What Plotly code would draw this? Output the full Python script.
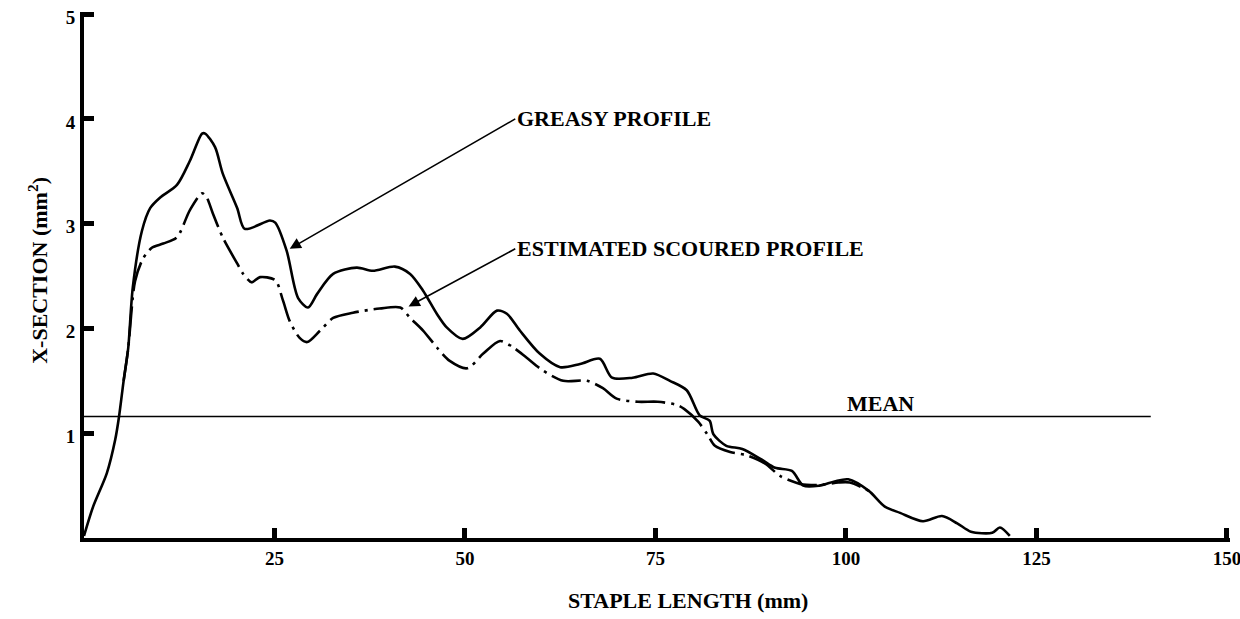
import plotly.graph_objects as go

# staple length (mm) / cross-section (mm^2)
greasy_x = [0, 1.2, 3.0, 4.1, 4.6, 5.2, 5.8, 6.4, 7.6, 8.7, 10.0, 12.2, 13.9, 15.5,
            15.9, 17.2, 18.2, 20.1, 21.1, 24.4, 25.1, 26.6, 28.1, 29.4, 30.6, 32.7,
            35.8, 37.9, 40.8, 42.8, 44.5, 46.3, 47.6, 49.7, 52.0, 54.2, 55.5, 57.2,
            59.8, 62.5, 65.1, 67.7, 69.3, 72.0, 74.7, 76.9, 79.1, 80.8, 82.1, 82.6,
            84.3, 86.4, 88.9, 90.7, 92.9, 94.4, 96.5, 98.5, 100.3, 103.0, 105.1,
            107.1, 110.1, 112.6, 114.6, 116.4, 119.2, 120.2, 121.5]
greasy_y = [0.02, 0.3, 0.62, 0.94, 1.16, 1.5, 1.81, 2.39, 2.93, 3.15, 3.25, 3.37, 3.60,
            3.86, 3.86, 3.73, 3.48, 3.15, 2.95, 3.03, 3.01, 2.74, 2.29, 2.20, 2.33,
            2.52, 2.58, 2.55, 2.59, 2.52, 2.36, 2.14, 2.01, 1.90, 2.01, 2.17, 2.14,
            1.98, 1.76, 1.63, 1.66, 1.71, 1.53, 1.53, 1.57, 1.50, 1.41, 1.17, 1.12,
            0.99, 0.88, 0.85, 0.75, 0.67, 0.64, 0.50, 0.50, 0.54, 0.56, 0.45, 0.30,
            0.24, 0.16, 0.21, 0.14, 0.06, 0.05, 0.10, 0.02]

scoured_x = [5.2, 5.8, 6.7, 7.7, 8.9, 10.4, 12.2, 13.9, 15.5, 16.1, 16.9, 18.2, 20.1,
             20.9, 22.0, 23.1, 25.1, 26.1, 27.0, 28.3, 29.3, 31.0, 32.7, 35.3, 38.8,
             41.5, 42.8, 44.5, 46.3, 48.0, 50.3, 52.4, 54.6, 56.3, 58.1, 60.2, 62.9,
             66.0, 68.1, 69.9, 72.7, 75.3, 77.8, 78.8, 80.6, 81.8, 82.8, 84.8, 86.9,
             89.4, 91.4, 94.4, 97.0, 99.0, 100.5, 103.0]
scoured_y = [1.5, 1.81, 2.45, 2.66, 2.77, 2.81, 2.87, 3.13, 3.29, 3.25, 3.10, 2.87, 2.62,
             2.52, 2.44, 2.49, 2.46, 2.27, 2.07, 1.91, 1.87, 1.98, 2.10, 2.15, 2.19,
             2.20, 2.10, 1.98, 1.82, 1.69, 1.62, 1.76, 1.88, 1.82, 1.72, 1.60, 1.50,
             1.50, 1.43, 1.33, 1.30, 1.30, 1.27, 1.23, 1.11, 0.99, 0.88, 0.82, 0.79,
             0.71, 0.59, 0.51, 0.51, 0.53, 0.53, 0.45]

mean_value = 1.16
mean_extent = [0, 140]

x_ticks = [25, 50, 75, 100, 125, 150]
y_ticks = [1, 2, 3, 4, 5]

FONT = "Liberation Serif"

fig = go.Figure()
fig.add_trace(go.Scatter(x=greasy_x, y=greasy_y, mode="lines", line_shape="spline",
                         line=dict(color="black", width=2.6, smoothing=0.8)))
fig.add_trace(go.Scatter(x=scoured_x, y=scoured_y, mode="lines", line_shape="spline",
                         line=dict(color="black", width=2.6, smoothing=0.8,
                                   dash="30px,6px,3px,6px")))
fig.add_trace(go.Scatter(x=mean_extent, y=[mean_value] * 2, mode="lines",
                         line=dict(color="black", width=1.6)))

label_font = dict(family=FONT, size=22, color="black", weight="bold")


def label(text, x, y, **kw):
    fig.add_annotation(x=x, y=y, text=text, showarrow=False, font=label_font, **kw)


def pointer(text, head, tail):
    # text sits at the tail of the arrow, arrow points at the curve
    fig.add_annotation(x=head[0], y=head[1], ax=tail[0], ay=tail[1], axref="x", ayref="y",
                       text=text, font=label_font, xanchor="left", yanchor="middle",
                       showarrow=True, arrowhead=2, arrowsize=1.4, arrowwidth=1.6,
                       arrowcolor="black", standoff=0, startstandoff=0)


pointer("GREASY PROFILE", (27.0, 2.76), (56.6, 4.0))
pointer("ESTIMATED SCOURED PROFILE", (42.6, 2.21), (56.6, 2.76))
label("MEAN", 104.5, 1.28)

# axis titles placed as annotations to match the original offsets
label("STAPLE LENGTH (mm)", 79.3, 0, yref="paper", yshift=-62,
      xanchor="center", yanchor="middle")
label("X-SECTION (mm<sup>2</sup>)", 0, 2.55, xref="paper", xshift=-46, textangle=-90,
      xanchor="center", yanchor="middle")

axis_common = dict(showline=True, linewidth=4, linecolor="black", ticks="inside",
                   ticklen=10, tickwidth=5, tickcolor="black", showgrid=False,
                   zeroline=False, automargin=False, ticklabeloverflow="allow",
                   tickfont=dict(family=FONT, size=19, color="black", weight="bold"))

fig.update_xaxes(range=[0, 150.4], tickvals=x_ticks, **axis_common)
fig.update_yaxes(range=[0, 5.02], tickvals=y_ticks, ticklabelstandoff=1,
                 ticklabelshift=3, **axis_common)

fig.update_layout(
    width=1240, height=619,
    margin=dict(l=84, r=10, t=12, b=81),
    plot_bgcolor="white", paper_bgcolor="white",
    showlegend=False,
)

# drop the default page margin so the figure fills the window exactly
fig.write_html("out.html", config={"displayModeBar": False},
               post_script="document.body.style.margin = '0';")
